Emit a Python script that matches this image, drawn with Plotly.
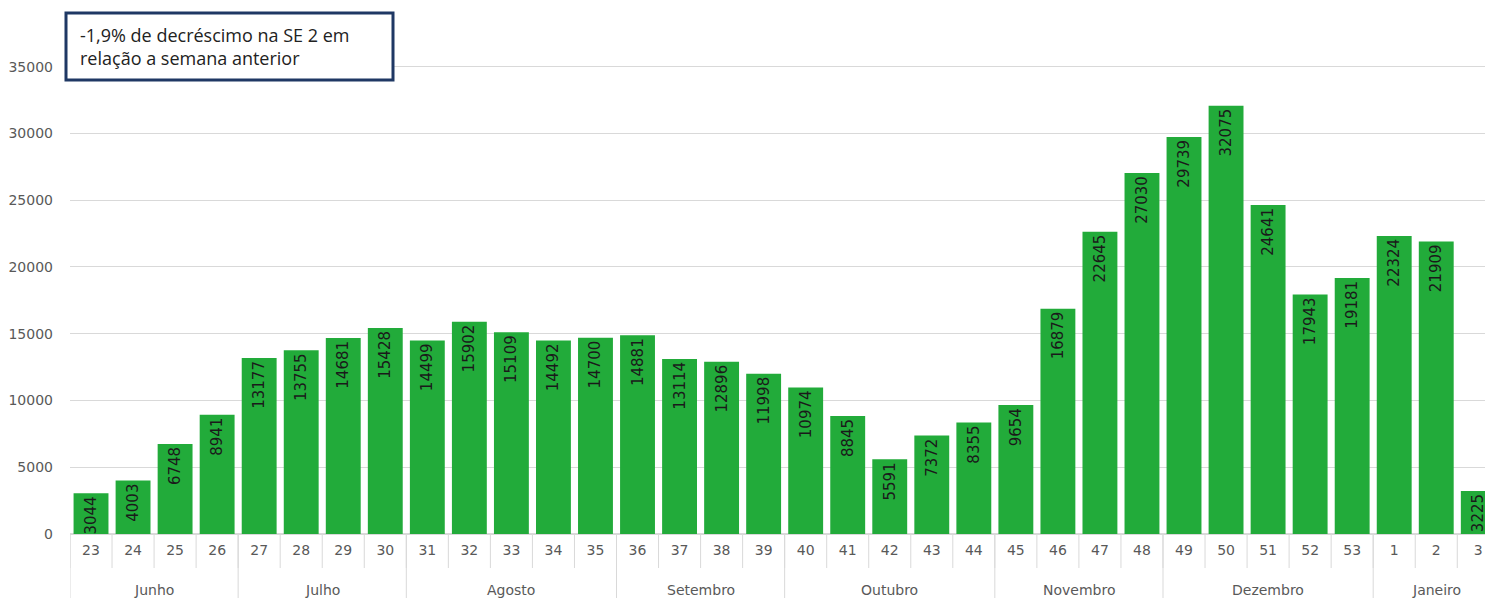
import plotly.graph_objects as go

weeks = ["23", "24", "25", "26", "27", "28", "29", "30", "31", "32", "33", "34", "35",
         "36", "37", "38", "39", "40", "41", "42", "43", "44", "45", "46", "47", "48",
         "49", "50", "51", "52", "53", "1", "2", "3"]
values = [3044, 4003, 6748, 8941, 13177, 13755, 14681, 15428, 14499, 15902, 15109, 14492,
          14700, 14881, 13114, 12896, 11998, 10974, 8845, 5591, 7372, 8355, 9654, 16879,
          22645, 27030, 29739, 32075, 24641, 17943, 19181, 22324, 21909, 3225]
months = ["Junho", "Julho", "Agosto", "Setembro", "Outubro", "Novembro", "Dezembro", "Janeiro"]
month_counts = [4, 4, 5, 4, 5, 4, 5, 3]
y_ticks = [0, 5000, 10000, 15000, 20000, 25000, 30000, 35000]
y_tick_text = ["0", "5000", "10000", "15000", "20000", "25000", "30000", "35000"]
note = "-1,9% de decréscimo na SE 2 em<br>relação a semana anterior"

OFF = 8  # page body margin
W, H = 1493 - OFF, 598 - OFF
ML, MR, MB = 70 - OFF, 0, 64
plot_h = 494
MT = H - MB - plot_h
GRAY = "#595959"
LINE = "#d9d9d9"
plot_w = W - ML - MR

xs = list(range(len(weeks)))

fig = go.Figure()
fig.add_trace(go.Bar(
    x=xs, y=values,
    marker=dict(color="#22AB3A", line=dict(width=0)),
    text=[str(v) for v in values],
    textposition="inside",
    insidetextanchor="end",
    textangle=-90,
    textfont=dict(family="DejaVu Sans", size=15, color="#1a1a1a"),
    cliponaxis=True,
    hoverinfo="x+y",
))

shapes = []
for i in range(len(weeks) + 1):
    shapes.append(dict(type="line", xref="x", yref="paper",
                       x0=i - 0.5, x1=i - 0.5, y0=0, y1=-(34 / plot_h),
                       line=dict(color=LINE, width=1), layer="above"))
annotations = []
start = 0
bounds = [0]
for m, c in zip(months, month_counts):
    end = start + c
    bounds.append(end)
    annotations.append(dict(xref="x", yref="paper", x=(start + end - 1) / 2,
                            y=-(56 / plot_h), text=m, showarrow=False,
                            yanchor="middle", xanchor="center",
                            font=dict(family="DejaVu Sans", size=14, color=GRAY)))
    start = end
for b in bounds:
    shapes.append(dict(type="line", xref="x", yref="paper",
                       x0=b - 0.5, x1=b - 0.5, y0=0, y1=-(MB / plot_h),
                       line=dict(color=LINE, width=1), layer="above"))

# note box (page pixel coords converted to paper)
def px_x(p):
    return (p - OFF - ML) / plot_w

def px_y(p):
    return (H - MB - (p - OFF)) / plot_h

shapes.append(dict(type="rect", xref="paper", yref="paper",
                   x0=px_x(66), x1=px_x(393), y0=px_y(80), y1=px_y(13),
                   line=dict(color="#1F3864", width=3), fillcolor="white", layer="above"))
annotations.append(dict(xref="paper", yref="paper",
                        x=px_x(78), y=px_y(46),
                        text=note, showarrow=False, xanchor="left", yanchor="middle",
                        align="left",
                        font=dict(family="Open Sans", size=18, color="#222222")))

fig.update_layout(
    width=W, height=H,
    margin=dict(l=ML, r=MR, t=MT, b=MB),
    plot_bgcolor="white", paper_bgcolor="white",
    showlegend=False,
    bargap=0.17,
    uniformtext=dict(minsize=15, mode="show"),
    xaxis=dict(
        range=[-0.5, 33.35],
        tickmode="array", tickvals=xs, ticktext=weeks,
        tickfont=dict(family="DejaVu Sans", size=14, color=GRAY),
        showgrid=False, zeroline=False,
        showline=True, linecolor=LINE, linewidth=1,
        ticks="", ticklabelstandoff=3,
    ),
    yaxis=dict(
        range=[0, 37000],
        tickmode="array", tickvals=y_ticks, ticktext=y_tick_text,
        tickfont=dict(family="DejaVu Sans", size=14, color=GRAY),
        showgrid=True, gridcolor=LINE, gridwidth=1,
        zeroline=True, zerolinecolor=LINE,
        showline=False, ticks="", ticklabelstandoff=16,
    ),
    shapes=shapes,
    annotations=annotations,
)

fig.write_html("out.html")
